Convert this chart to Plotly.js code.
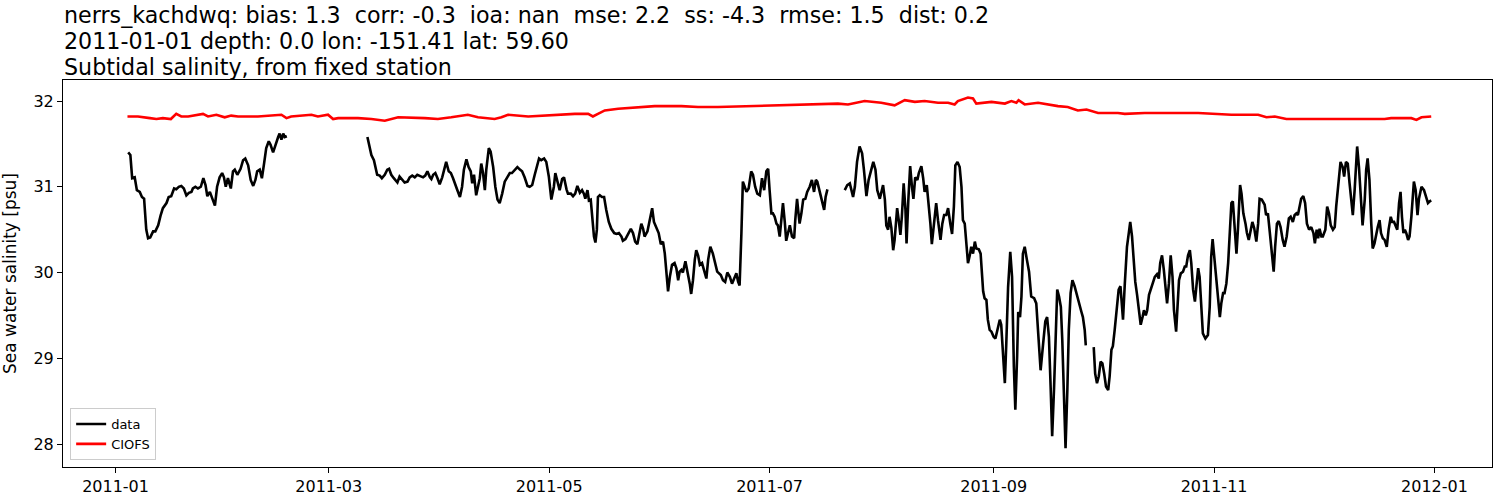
<!DOCTYPE html>
<html>
<head>
<meta charset="utf-8">
<script src="https://cdn.plot.ly/plotly-3.0.1.min.js"></script>
<style>html,body{margin:0;padding:0;background:#fff;}#chart{width:1500px;height:500px;}</style>
</head>
<body>
<div id="chart"></div>
<script>
// Observation ("data") series: days since 2011-01-01 00:00 and salinity [psu]; null = gap
const dataDay = [
3.5,4.1,4.6,5.3,5.9,6.7,7.3,7.9,8.5,9.0,9.6,10.4,11.0,11.8,12.5,13.1,14.1,14.7,15.4,16.2,16.8,17.5,18.2,18.9,19.6,20.3,21.0,21.4,22.1,22.8,23.6,24.3,24.9,25.4,26.1,26.7,27.5,28.1,28.8,29.5,30.0,30.5,31.1,31.9,32.5,33.0,33.7,34.6,35.3,35.9,36.7,37.4,38.1,38.7,39.2,39.9,40.5,41.1,41.7,42.4,42.9,43.6,44.2,45.0,45.4,45.9,46.4,46.8,47.4,
58,
69.7,70.3,70.8,71.5,71.9,72.4,73.1,73.7,74.5,75.2,75.7,76.3,77.0,77.5,78.0,78.6,79.3,80.0,80.8,81.4,82.1,82.8,83.5,84.2,85.1,85.7,86.3,87.0,87.4,87.9,88.5,89.1,89.7,90.4,90.9,91.5,92.2,92.8,93.4,94.0,94.6,95.3,95.9,96.4,97.1,97.7,98.3,98.7,99.2,99.8,
100.8,101.2,101.7,102.2,102.6,103.3,103.8,104.5,105.1,105.7,106.3,107.0,107.7,108.4,109.1,109.7,110.5,111.2,111.9,112.5,113.2,114.0,114.6,115.3,116.0,116.7,117.2,117.8,118.6,119.2,119.9,120.6,121.3,121.7,122.3,122.9,123.6,124.1,124.8,125.2,126.0,126.6,127.2,127.8,128.5,129.1,129.6,130.0,130.6,131.0,131.5,131.9,132.4,132.8,133.2,133.5,
134.0,134.6,135.2,135.8,136.5,137.2,138.0,138.6,139.3,140.0,140.4,141.1,141.8,142.6,143.2,143.8,144.4,145.1,145.5,146.0,146.4,147.2,147.8,148.5,149.0,149.7,150.3,150.9,151.5,152.0,152.4,152.9,153.4,154.0,154.7,155.2,155.7,156.1,156.6,157.0,157.7,158.2,158.9,159.3,159.8,160.3,160.7,161.2,161.7,162.3,162.9,163.5,164.0,164.6,165.3,166.0,166.5,
167.5,168.1,168.7,169.3,170.0,170.6,171.2,171.8,172.3,172.7,173.2,173.6,174.1,174.6,175.2,175.9,176.4,177.0,177.6,178.3,178.9,179.5,180.1,180.6,181.0,181.5,181.9,182.4,182.9,183.3,183.8,184.2,184.7,185.2,185.6,186.1,186.6,187.2,187.8,188.1,188.6,188.9,189.3,189.8,190.3,190.9,191.4,192.1,192.7,193.3,193.8,194.2,194.9,195.5,196.1,196.5,197.0,
199,
201.8,202.5,203.2,203.6,204.1,204.6,205.2,205.9,206.6,207.1,207.8,208.4,209.2,209.7,210.3,210.8,211.5,211.9,212.4,212.9,213.3,213.8,214.2,214.7,215.2,215.6,216.3,216.8,217.2,217.6,218.1,218.6,218.9,219.4,219.9,220.4,220.8,221.3,221.9,222.3,223.0,223.5,223.9,224.5,225.0,225.5,225.9,226.5,227.1,227.6,228.3,228.8,229.3,229.9,230.4,231.0,231.5,232.0,232.4,233.0,
233.6,234.1,234.5,235.0,235.4,235.9,236.4,236.8,237.3,237.8,238.2,238.9,239.4,240.1,240.5,241.0,241.4,241.9,242.4,243.0,243.5,244.0,244.7,245.1,245.6,246.1,246.5,247.0,247.6,248.1,248.6,249.0,249.5,249.8,250.3,250.7,251.1,251.6,252.2,252.8,253.4,254.2,254.8,255.3,256.0,256.7,257.3,257.8,258.3,258.8,259.2,259.7,260.2,260.6,261.1,261.6,262.0,262.5,262.9,263.4,263.8,264.3,264.8,265.4,266.1,
266.8,267.3,267.7,268.2,268.5,
269.6,
270.7,271.1,271.6,272.1,272.6,273.1,273.6,274.1,274.7,275.1,275.6,276.0,276.5,277.1,277.6,278.1,278.5,278.8,279.3,279.9,280.4,280.8,281.3,281.8,282.2,282.7,283.2,283.7,284.2,284.6,285.1,285.5,286.0,286.5,286.9,287.6,288.2,288.7,289.1,289.6,290.1,290.5,291.0,291.5,292.0,292.5,292.9,293.5,293.8,294.3,294.8,295.4,295.9,296.3,296.8,297.3,297.7,298.2,298.7,299.1,
299.6,300.0,300.5,300.9,301.6,302.3,302.8,303.2,303.6,304.2,304.6,305.1,305.6,306.0,306.5,306.9,307.4,307.9,308.3,308.8,309.2,309.7,310.2,310.6,311.2,311.6,312.1,312.7,313.1,313.6,314.0,314.6,315.1,315.7,316.2,316.6,317.2,318.0,318.4,318.9,319.4,320.0,320.5,320.9,321.4,321.9,322.4,323.0,323.5,324.1,324.7,325.2,325.8,326.3,326.8,327.2,327.7,328.1,328.7,329.2,329.7,330.3,330.9,331.5,331.9,332.4,
332.8,333.2,333.7,334.1,334.8,335.3,335.8,336.3,336.9,337.4,337.8,338.5,339.0,339.6,340.0,340.5,341.0,341.5,342.0,342.4,342.9,343.4,343.6,344.1,344.6,345.1,345.7,346.1,346.5,347.0,347.5,347.9,348.4,348.8,349.3,349.8,350.2,350.7,351.2,351.8,352.3,352.9,353.3,353.8,354.3,354.7,355.2,355.6,356.0,356.4,356.8,357.2,357.7,358.1,358.6,359.3,359.8,360.3,360.7,361.4,362.1,362.6,363.2,363.7,364.1
];
const dataSal = [
31.40,31.37,31.10,31.11,30.96,30.94,30.88,30.86,30.50,30.40,30.41,30.48,30.48,30.55,30.67,30.75,30.81,30.88,30.89,30.98,30.97,31.00,31.01,30.98,30.90,30.93,30.94,30.98,31.00,30.98,31.00,31.10,31.02,30.89,30.94,30.88,30.78,31.00,31.11,31.16,31.11,31.00,31.10,30.98,31.18,31.20,31.14,31.21,31.31,31.33,31.25,31.08,31.01,31.08,31.18,31.20,31.10,31.27,31.45,31.53,31.49,31.40,31.49,31.58,31.62,31.55,31.62,31.58,31.59,
null,
31.58,31.45,31.37,31.31,31.23,31.14,31.13,31.10,31.14,31.20,31.21,31.14,31.10,31.08,31.05,31.12,31.09,31.05,31.06,31.11,31.13,31.11,31.14,31.13,31.11,31.13,31.18,31.11,31.09,31.14,31.16,31.10,31.03,31.11,31.21,31.29,31.18,31.16,31.10,31.04,30.96,30.88,31.00,31.20,31.32,31.23,31.18,31.04,31.14,30.90,
31.10,31.27,31.16,30.96,31.20,31.45,31.41,31.23,31.00,30.85,30.81,30.92,31.06,31.11,31.16,31.16,31.20,31.23,31.20,31.18,31.11,31.01,31.00,31.02,31.14,31.25,31.33,31.31,31.33,31.29,31.12,30.85,31.00,31.16,31.04,30.96,31.09,31.11,30.97,30.92,30.92,30.89,30.92,31.01,30.93,30.96,30.92,30.86,30.96,30.84,30.85,30.65,30.42,30.35,30.50,30.88,
30.90,30.88,30.88,30.73,30.59,30.51,30.46,30.45,30.46,30.42,30.37,30.39,30.44,30.51,30.46,30.36,30.33,30.50,30.57,30.51,30.42,30.48,30.59,30.75,30.59,30.53,30.46,30.33,30.36,30.22,30.01,29.78,29.95,30.09,30.11,30.05,29.91,30.01,30.03,30.00,30.13,30.03,29.87,29.75,29.91,30.15,30.26,30.20,30.09,30.11,30.03,29.93,30.15,30.30,30.22,30.09,30.01,
29.97,29.91,29.89,30.00,29.95,29.87,29.93,29.99,29.89,29.85,30.46,31.06,31.00,30.94,30.98,31.18,31.14,31.00,30.92,30.90,31.10,30.96,31.18,31.21,30.96,30.69,30.69,30.65,30.57,30.55,30.42,30.57,30.81,30.59,30.37,30.46,30.55,30.42,30.40,30.61,30.86,30.73,30.57,30.69,30.85,30.86,30.94,31.00,31.08,30.94,31.08,31.06,30.94,30.86,30.73,30.88,30.97,
null,
30.96,31.02,31.04,30.96,30.88,31.00,31.29,31.47,31.39,31.20,30.89,31.08,31.20,31.29,31.20,30.96,30.86,30.92,31.02,30.85,30.55,30.50,30.65,30.52,30.26,30.38,30.75,30.59,30.44,30.65,31.04,30.73,30.34,30.85,31.24,31.00,30.86,31.11,31.08,31.16,31.24,31.10,30.94,31.02,30.81,30.57,30.33,30.57,30.81,30.61,30.38,30.57,30.67,30.67,30.75,30.57,30.45,30.77,31.25,31.29,
31.23,31.00,30.61,30.57,30.34,30.11,30.20,30.30,30.22,30.36,30.28,30.27,30.22,29.78,29.70,29.68,29.45,29.33,29.31,29.25,29.23,29.33,29.45,29.39,29.02,28.71,29.17,29.83,30.24,29.95,28.90,28.40,29.02,29.54,29.48,29.72,30.22,30.30,30.15,30.01,29.72,29.70,29.64,29.33,28.86,29.17,29.43,29.48,29.25,28.63,28.09,28.63,29.41,29.80,29.72,29.60,29.21,28.40,27.95,28.63,29.33,29.76,29.91,29.84,29.74,
29.64,29.54,29.48,29.33,29.15,
null,
29.13,28.82,28.71,28.79,28.96,28.94,28.82,28.67,28.63,28.79,29.10,29.14,29.33,29.56,29.80,29.84,29.54,29.45,29.87,30.30,30.46,30.59,30.42,30.11,29.89,29.74,29.56,29.39,29.48,29.56,29.50,29.56,29.74,29.80,29.85,29.95,29.98,29.93,30.11,30.20,30.03,29.83,29.64,29.87,30.20,29.95,29.56,29.31,29.60,29.91,29.99,30.01,30.07,30.07,30.20,30.26,30.11,29.80,29.66,29.87,
30.05,29.95,29.60,29.29,29.23,29.27,29.60,30.18,30.39,30.11,29.87,29.68,29.48,29.64,29.76,29.76,29.87,30.11,30.38,30.81,30.83,30.57,30.22,30.50,31.02,30.92,30.69,30.57,30.46,30.38,30.46,30.59,30.52,30.36,30.57,30.86,30.85,30.79,30.67,30.69,30.48,30.18,30.01,30.30,30.57,30.60,30.53,30.38,30.30,30.42,30.63,30.65,30.59,30.67,30.69,30.67,30.79,30.86,30.89,30.81,30.57,30.50,30.53,30.46,30.34,30.50,
30.40,30.51,30.42,30.42,30.50,30.77,30.69,30.55,30.50,30.53,30.77,31.04,31.29,31.23,31.12,31.29,31.27,31.04,30.81,30.67,30.96,31.35,31.47,31.23,30.85,30.55,30.85,31.20,31.33,31.08,30.57,30.28,30.34,30.44,30.53,30.61,30.46,30.40,30.38,30.30,30.50,30.65,30.59,30.59,30.55,30.50,30.81,30.94,30.65,30.46,30.50,30.46,30.38,30.42,30.65,31.06,30.96,30.67,30.86,31.00,30.96,30.88,30.81,30.83,30.84
];
// Model (CIOFS) series
const modelDay = [3.3,6.2,9.5,11.3,13.1,15.3,16.8,18.2,20.1,21.9,24.2,25.6,27.9,30.2,32.0,33.9,39.4,45.9,47.3,48.6,54.2,56.0,58.8,60.2,61.6,67.1,70.8,74.5,78.2,85.6,89.2,92.9,97.5,100.3,104.9,106.8,108.6,114.2,121.5,127.1,130.8,132.1,133.5,135.4,139.1,144.6,149.2,156.6,161.2,166.7,175.0,185.2,194.4,199.9,202.7,207.3,211.9,215.6,218.4,221.2,223.9,227.6,230.4,232.2,233.1,235.9,237.3,238.2,242.4,246.1,247.9,249.3,249.9,251.6,255.3,258.0,260.8,263.5,266.3,268.7,271.9,275.6,277.4,279.3,284.8,299.6,305.1,308.8,316.2,318.5,320.8,324.0,327.2,332.8,342.0,346.6,351.2,353.0,358.6,360.0,361.4,364.1];
const modelSal = [31.82,31.82,31.80,31.79,31.80,31.79,31.85,31.82,31.82,31.83,31.85,31.82,31.84,31.81,31.83,31.82,31.82,31.84,31.80,31.82,31.84,31.82,31.84,31.79,31.80,31.80,31.79,31.77,31.81,31.80,31.79,31.81,31.84,31.81,31.79,31.81,31.84,31.82,31.84,31.85,31.85,31.82,31.85,31.89,31.91,31.93,31.94,31.94,31.93,31.93,31.94,31.95,31.96,31.97,31.96,32.00,31.98,31.95,32.01,31.99,32.00,31.98,31.98,31.96,32.00,32.04,32.03,31.97,31.99,31.97,32.00,31.98,32.01,31.96,31.98,31.96,31.94,31.93,31.89,31.90,31.86,31.86,31.86,31.85,31.86,31.86,31.85,31.84,31.84,31.81,31.82,31.79,31.79,31.79,31.79,31.79,31.79,31.80,31.80,31.78,31.81,31.82];

const seriesNames = ["data", "CIOFS"];
const monthTicks = ["2011-01-01","2011-03-01","2011-05-01","2011-07-01","2011-09-01","2011-11-01","2012-01-01"];
const monthLabels = ["2011-01","2011-03","2011-05","2011-07","2011-09","2011-11","2012-01"];
const yTicks = [28, 29, 30, 31, 32];
const titleLines = [
  "nerrs_kachdwq: bias: 1.3  corr: -0.3  ioa: nan  mse: 2.2  ss: -4.3  rmse: 1.5  dist: 0.2",
  "2011-01-01 depth: 0.0 lon: -151.41 lat: 59.60",
  "Subtidal salinity, from fixed station"
];

const T0 = Date.UTC(2011, 0, 1);
function toDate(d) {
  return new Date(T0 + d * 86400000).toISOString().replace('T', ' ').slice(0, 19);
}

const FONT = "DejaVu Sans, Liberation Sans, sans-serif";
const traces = [
  {x: dataDay.map(toDate), y: dataSal, name: seriesNames[0], mode: "lines",
   line: {color: "black", width: 2.6}, connectgaps: false},
  {x: modelDay.map(toDate), y: modelSal, name: seriesNames[1], mode: "lines",
   line: {color: "red", width: 2.6}}
];

const annY = [1.168, 1.101, 1.034];
const layout = {
  width: 1500, height: 500,
  margin: {l: 63, r: 8, t: 80, b: 33},
  paper_bgcolor: "white", plot_bgcolor: "white",
  font: {family: FONT, color: "black"},
  showlegend: true,
  legend: {x: 0.005, y: 0.018, xanchor: "left", yanchor: "bottom",
    bgcolor: "rgba(255,255,255,0.8)", bordercolor: "#cccccc", borderwidth: 1,
    tracegroupgap: 2, font: {size: 13, family: FONT}},
  xaxis: {type: "date", range: ["2010-12-17 11:00", "2012-01-16 22:00"],
    tickmode: "array", tickvals: monthTicks, ticktext: monthLabels,
    ticks: "outside", ticklen: 5, tickcolor: "black", tickfont: {size: 16},
    showgrid: false, zeroline: false, showline: true, linecolor: "black", linewidth: 1, mirror: true},
  yaxis: {range: [27.732, 32.245], tickmode: "array", tickvals: yTicks,
    ticks: "outside", ticklen: 5, tickcolor: "black", tickfont: {size: 16},
    title: {text: "Sea water salinity [psu]", font: {size: 17}, standoff: 12},
    showgrid: false, zeroline: false, showline: true, linecolor: "black", linewidth: 1, mirror: true},
  annotations: titleLines.map((t, i) => ({
    text: t, xref: "paper", yref: "paper", x: -0.001, y: annY[i],
    xanchor: "left", yanchor: "middle", showarrow: false,
    font: {size: 22.2, family: FONT, color: "black"}
  }))
};

Plotly.newPlot("chart", traces, layout, {displayModeBar: false, staticPlot: true});
</script>
</body>
</html>
